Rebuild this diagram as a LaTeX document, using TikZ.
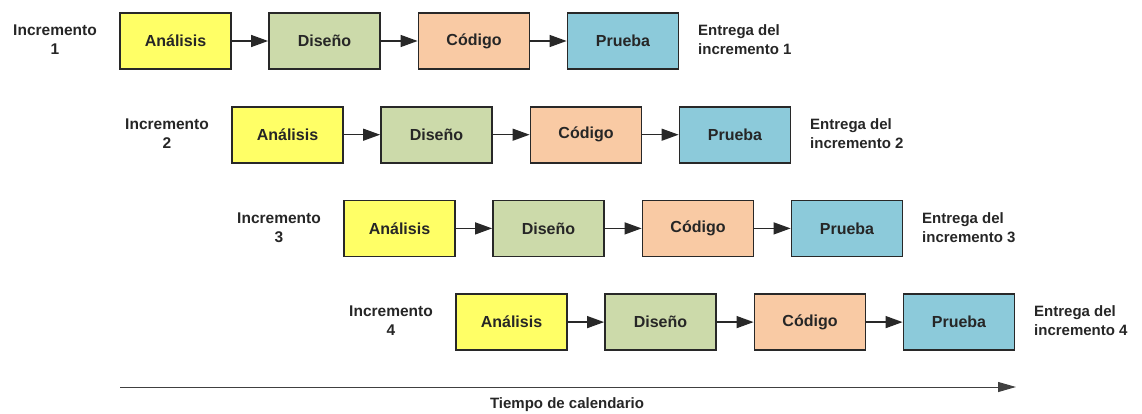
\documentclass[tikz,border=0pt]{standalone}
\usepackage{fontspec}
\setmainfont{Liberation Sans}
\usetikzlibrary{arrows.meta}
\definecolor{cA}{RGB}{255,255,102}
\definecolor{cD}{RGB}{204,218,170}
\definecolor{cC}{RGB}{249,202,164}
\definecolor{cP}{RGB}{140,202,218}
\definecolor{edge}{RGB}{40,40,40}
\begin{document}
\begin{tikzpicture}[x=1pt,y=-1pt,
  phase/.style={draw=edge,line width=1.8pt,minimum width=111pt,minimum height=56pt,inner sep=0pt,
     font=\fontsize{16}{18}\selectfont\bfseries,text=black!85},
  lbl/.style={align=center,font=\fontsize{15.5}{19}\selectfont\bfseries,text=black!85,inner sep=0pt},
  ent/.style={align=left,font=\fontsize{15}{19}\selectfont\bfseries,text=black!85,inner sep=0pt,anchor=west},
  flow/.style={draw=edge,line width=1.3pt,-{Triangle[length=17pt,width=12pt]}}]
\useasboundingbox (0,0) rectangle (1142,414);
\foreach \i in {1,2,3,4}{
  \pgfmathsetmacro{\dx}{112*(\i-1)}
  \pgfmathsetmacro{\yc}{41+93.7*(\i-1)}
  \node[phase,fill=cA] (a\i) at (175.5+\dx,\yc) {Análisis};
  \node[phase,fill=cD] (d\i) at (324.5+\dx,\yc) {Diseño};
  \node[phase,fill=cC] (c\i) at (474+\dx,\yc) {Código};
  \node[phase,fill=cP] (p\i) at (623+\dx,\yc) {Prueba};
  \node[lbl] (l\i) at (55+\dx,\yc-1) {Incremento\\\i};
  \node[ent] (e\i) at (698+\dx,\yc-1) {Entrega del\\incremento \i};
  \draw[flow] (a\i) -- (d\i);
  \draw[flow] (d\i) -- (c\i);
  \draw[flow] (c\i) -- (p\i);
}
\coordinate (t0) at (120,387);
\coordinate (t1) at (1016,387);
\draw[draw=black!75,line width=1pt,-{Triangle[length=18pt,width=10pt]}] (t0) -- (t1);
\node[font=\fontsize{15}{17}\selectfont\bfseries,text=black!85] (tt) at (567,405) {Tiempo de calendario};
\end{tikzpicture}
\end{document}
